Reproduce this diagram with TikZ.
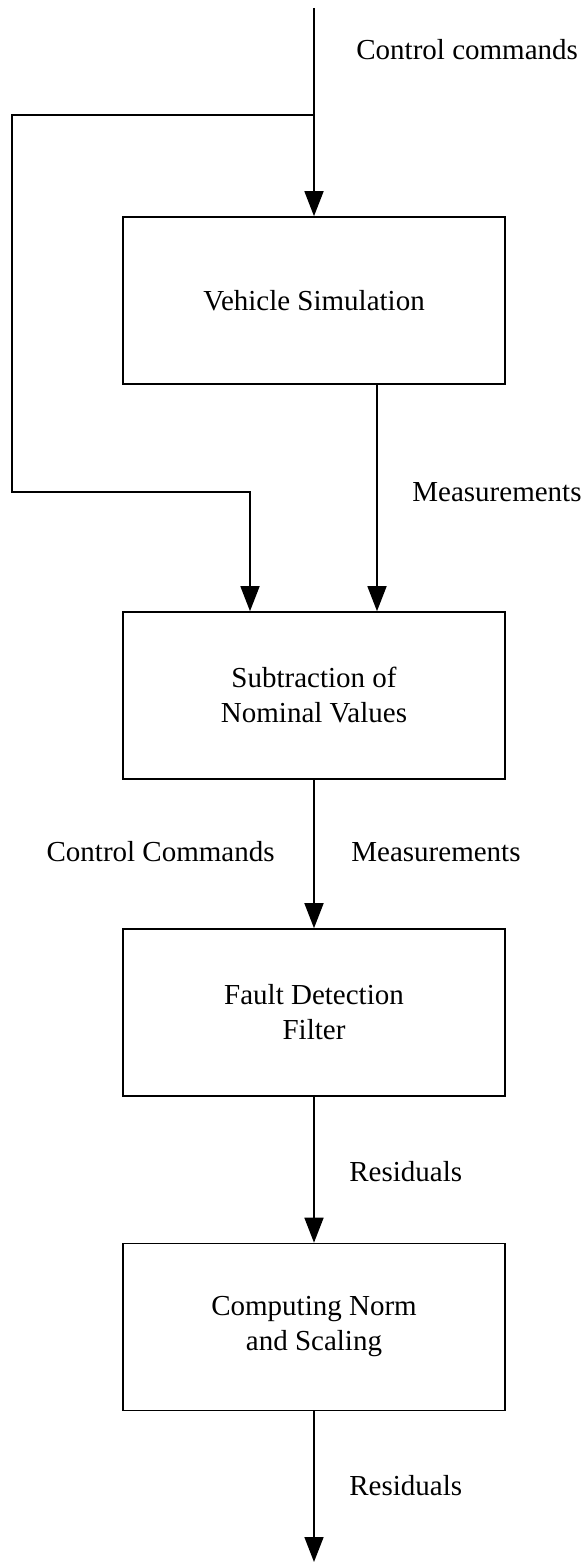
\documentclass[tikz,border=0pt]{standalone}
\usepackage{fontspec}
\setmainfont{Liberation Serif}
\usetikzlibrary{calc,arrows.meta}

\begin{document}
\begin{tikzpicture}[every node/.style={font=\fontsize{14.5}{17.5}\selectfont}]
        % One unit is one pixel of the sketch, y runs downwards
        \tikzset{
            x={(0.5pt,0pt)}, y={(0pt,-0.5pt)},
            block/.style={draw, line width=0.8pt, minimum width=191pt, minimum height=83.5pt, align=center, inner sep=0pt},
            wire/.style={line width=0.8pt},
            flow/.style={wire, -{Triangle[length=12.5pt,width=9.5pt]}},
            lbl/.style={anchor=west, inner sep=0pt},
        }

        \useasboundingbox (0,0) rectangle (587,1562);

        % Blocks of the chain
        \node[block] (sim) at (314,300.5) {Vehicle Simulation};
        \node[block] (sub) at (314,695.5) {Subtraction of\\Nominal Values};
        \node[block] (fdf) at (314,1012.5) {Fault Detection\\Filter};
        \node[block] (norm) at (314,1327) {Computing Norm\\and Scaling};

        % Free ends and corners of the wires
        \coordinate (in) at (314,8);
        \coordinate (split) at (314,115);
        \coordinate (ltop) at (12,115);
        \coordinate (lbot) at (12,492);
        \coordinate (out) at (314,1562);

        % Wires
        \draw[flow] (in) -- (sim);
        \draw[flow] (split) -- (ltop) -- (lbot) -| ([xshift=-32pt]sub.north);
        \draw[flow] ([xshift=31.5pt]sim.south) -- ([xshift=31.5pt]sub.north);
        \draw[flow] (sub) -- (fdf);
        \draw[flow] (fdf) -- (norm);
        \draw[flow] (norm) -- (out);

        % Signal names
        \node[lbl] (cmdtop) at (356,50) {Control commands};
        \node[lbl] (meastop) at (412,492) {Measurements};
        \node[lbl, anchor=east] (cmdmid) at (275,852) {Control Commands};
        \node[lbl] (measmid) at (351,852) {Measurements};
        \node[lbl] (resmid) at (349,1172) {Residuals};
        \node[lbl] (resout) at (349,1486) {Residuals};

\end{tikzpicture}
\end{document}
